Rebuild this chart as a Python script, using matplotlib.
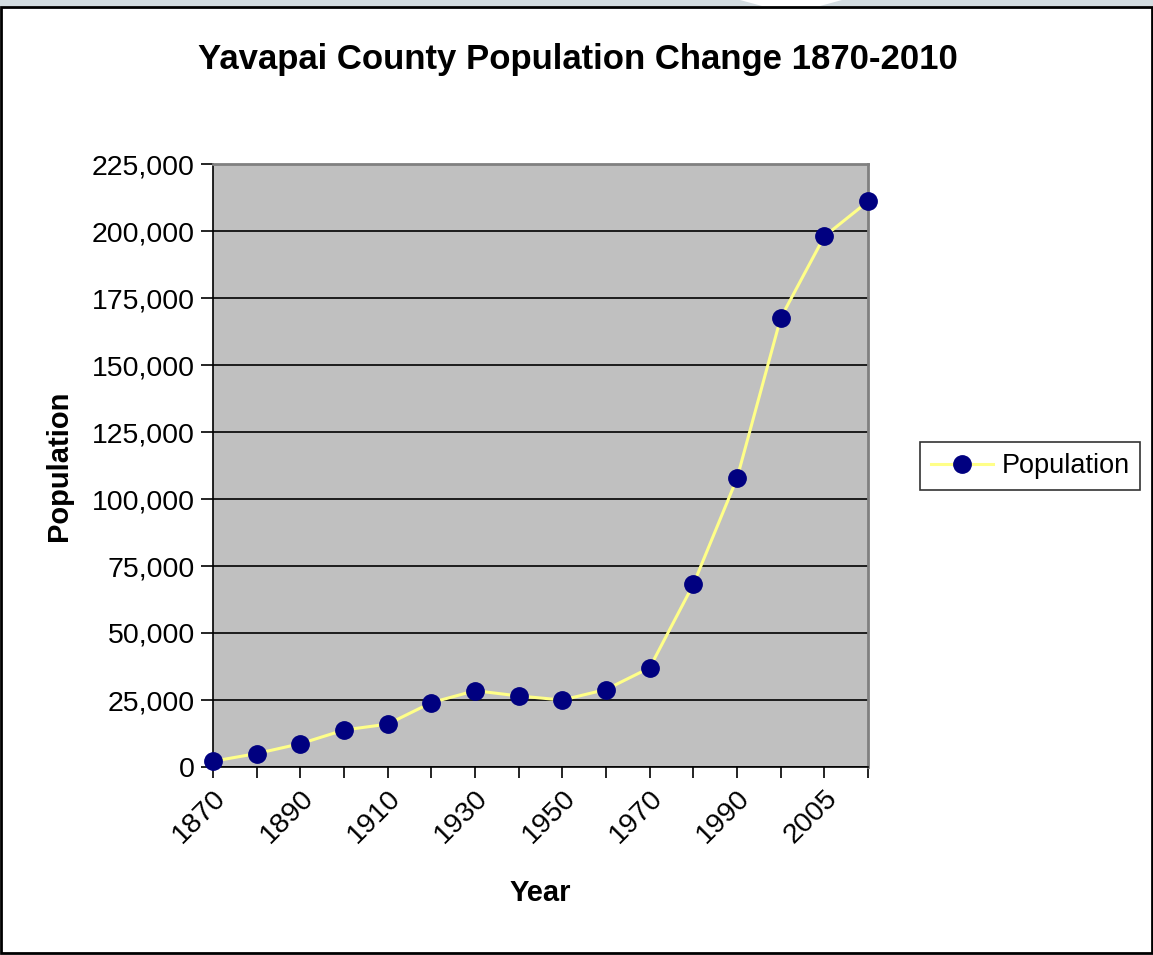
import matplotlib
matplotlib.use("Agg")
import matplotlib.pyplot as plt
from matplotlib.patches import Rectangle, Polygon
from matplotlib.lines import Line2D
from matplotlib.ticker import FuncFormatter

plt.rcParams['font.family'] = ['Liberation Sans', 'DejaVu Sans']

years = ["1870", "1880", "1890", "1900", "1910", "1920", "1930", "1940",
         "1950", "1960", "1970", "1980", "1990", "2000", "2005", "2010"]
population = [2142, 5013, 8685, 13799, 15996, 24016, 28470, 26511,
              24991, 28912, 37005, 68145, 107714, 167517, 198000, 211033]
y_ticks = [0, 25000, 50000, 75000, 100000, 125000, 150000, 175000, 200000, 225000]

title = "Yavapai County Population Change 1870-2010"
series_name = "Population"

W, H = 1153, 955
fig = plt.figure(figsize=(W / 100, H / 100), dpi=100)

# screenshot strip and frame
fig.patches.append(Rectangle((0, 1 - 6 / H), 1, 6 / H, transform=fig.transFigure,
                             facecolor="#D3DCE0", edgecolor="none", zorder=0))
fig.patches.append(Polygon([(740 / W, 1), (842 / W, 1), (820 / W, 1 - 6 / H), (762 / W, 1 - 6 / H)],
                           closed=True, transform=fig.transFigure,
                           facecolor="white", edgecolor="none", zorder=1))
fig.patches.append(Rectangle((1 / W, 2 / H), (W - 2) / W, (H - 9) / H, transform=fig.transFigure,
                             facecolor="none", edgecolor="black", linewidth=2.0, zorder=2))

ax = fig.add_axes([213 / W, 1 - 767 / H, 655 / W, 603 / H])
ax.set_facecolor("#C0C0C0")

x = list(range(len(years)))

ax.plot(x, population, color="#FFFF88", linewidth=2.2, marker="o", markersize=12.5,
        markerfacecolor="#000080", markeredgecolor="#000080", zorder=4, clip_on=False)

ax.set_xlim(0, len(years) - 1)
ax.set_ylim(0, 225000)
ax.set_yticks(y_ticks)
ax.yaxis.set_major_formatter(FuncFormatter(lambda v, p: f"{int(v):,}"))
ax.set_xticks(x)
ax.set_xticklabels([lab if i % 2 == 0 else "" for i, lab in enumerate(years)],
                   rotation=45, ha="right", va="top", rotation_mode="anchor")
ax.tick_params(axis="y", labelsize=20.5, length=9, width=1.2, direction="out", pad=4)
ax.tick_params(axis="x", labelsize=20.5, length=8, width=1.2, direction="out", pad=5)

ax.grid(axis="y", color="black", linewidth=1.2)
ax.set_axisbelow(True)
for s in ("top", "right"):
    ax.spines[s].set_color("#808080")
    ax.spines[s].set_linewidth(2)
for s in ("left", "bottom"):
    ax.spines[s].set_color("black")
    ax.spines[s].set_linewidth(1.2)

ax.set_ylabel("Population", fontsize=21, fontweight="bold", labelpad=14)
ax.set_xlabel("Year", fontsize=21, fontweight="bold", labelpad=22)

fig.text(578 / W, 1 - 59 / H, title, fontsize=25, fontweight="bold",
         ha="center", va="center")

handle = Line2D([], [], color="#FFFF88", linewidth=2.2, marker="o", markersize=12.5,
                markerfacecolor="#000080", markeredgecolor="#000080")
leg = fig.legend([handle], [series_name], loc="center left",
                 bbox_to_anchor=(920 / W, 1 - 466 / H), bbox_transform=fig.transFigure,
                 fontsize=19.5, frameon=True, fancybox=False, borderaxespad=0,
                 handlelength=2.3, handletextpad=0.3, borderpad=0.4)
leg.get_frame().set_edgecolor("black")
leg.get_frame().set_linewidth(1.2)

fig.savefig("out.png", dpi=100)
